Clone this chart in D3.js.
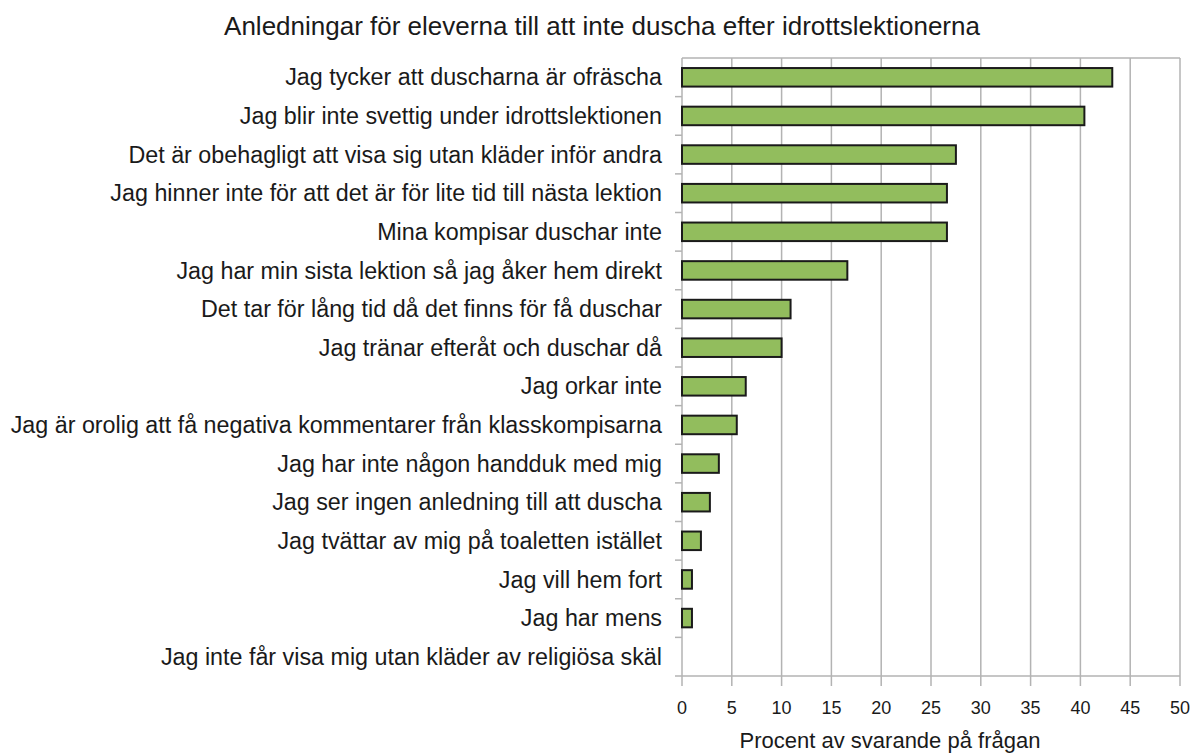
<!DOCTYPE html>
<html>
<head>
<meta charset="utf-8">
<script src="https://cdn.jsdelivr.net/npm/d3@7"></script>
<style>
  body { margin: 0; background: #fff; }
  text { font-family: "Liberation Sans", Arial, sans-serif; fill: #1a1a1a; }
</style>
</head>
<body>
<script>
// reasons (top to bottom) and percentages
var reasons = [
  "Jag tycker att duscharna är ofräscha",
  "Jag blir inte svettig under idrottslektionen",
  "Det är obehagligt att visa sig utan kläder inför andra",
  "Jag hinner inte för att det är för lite tid till nästa lektion",
  "Mina kompisar duschar inte",
  "Jag har min sista lektion så jag åker hem direkt",
  "Det tar för lång tid då det finns för få duschar",
  "Jag tränar efteråt och duschar då",
  "Jag orkar inte",
  "Jag är orolig att få negativa kommentarer från klasskompisarna",
  "Jag har inte någon handduk med mig",
  "Jag ser ingen anledning till att duscha",
  "Jag tvättar av mig på toaletten istället",
  "Jag vill hem fort",
  "Jag har mens",
  "Jag inte får visa mig utan kläder av religiösa skäl"
];
var percent = [43.2, 40.4, 27.5, 26.6, 26.6, 16.6, 10.9, 10.0, 6.4, 5.5, 3.7, 2.8, 1.9, 1.0, 1.0, 0];
var xTicks = [0, 5, 10, 15, 20, 25, 30, 35, 40, 45, 50];

var chartTitle = "Anledningar för eleverna till att inte duscha efter idrottslektionerna";
var xTitle = "Procent av svarande på frågan";

//plot frame
var width = 1192, height = 754;
var plotLeft = 682, plotRight = 1180, plotTop = 58, plotBottom = 676;

var svg = d3.select("body").append("svg")
    .attr("width", width)
    .attr("height", height);

var x = d3.scaleLinear().domain([0, 50]).range([plotLeft, plotRight]);
var y = d3.scaleBand().domain(reasons).range([plotTop, plotBottom]).paddingInner(0.52).paddingOuter(0.26);
var yb = d3.scaleBand().domain(reasons).range([plotTop, plotBottom]);

var gridColor = "#b3b3b3";

//vertical gridlines with ticks below axis
svg.selectAll(".grid")
    .data(xTicks)
    .enter().append("line")
    .attr("x1", function(d){ return x(d); })
    .attr("x2", function(d){ return x(d); })
    .attr("y1", plotTop)
    .attr("y2", plotBottom + 10)
    .attr("stroke", gridColor)
    .attr("stroke-width", 1.5);

//top border
svg.append("line")
    .attr("x1", plotLeft).attr("x2", plotRight)
    .attr("y1", plotTop).attr("y2", plotTop)
    .attr("stroke", gridColor).attr("stroke-width", 1.5);

//category ticks on the left
svg.selectAll(".ytick")
    .data(reasons.slice(1))
    .enter().append("line")
    .attr("x1", plotLeft - 7).attr("x2", plotLeft)
    .attr("y1", function(d){ return yb(d); })
    .attr("y2", function(d){ return yb(d); })
    .attr("stroke", gridColor).attr("stroke-width", 1.5);

//bottom axis line
svg.append("line")
    .attr("x1", plotLeft - 7).attr("x2", plotRight)
    .attr("y1", plotBottom).attr("y2", plotBottom)
    .attr("stroke", gridColor).attr("stroke-width", 1.5);

//bars
svg.selectAll(".bar")
    .data(reasons.filter(function(d, i){ return percent[i] > 0; }))
    .enter().append("rect")
    .attr("class", "bar")
    .attr("x", x(0))
    .attr("y", function(d){ return y(d); })
    .attr("width", function(d){ return x(percent[reasons.indexOf(d)]) - x(0); })
    .attr("height", y.bandwidth())
    .attr("fill", "#92bd5d")
    .attr("stroke", "#1a1a1a")
    .attr("stroke-width", 2);

//category labels
svg.selectAll(".label")
    .data(reasons)
    .enter().append("text")
    .attr("x", 662)
    .attr("y", function(d){ return yb(d) + yb.bandwidth() / 2; })
    .attr("dy", "0.35em")
    .attr("text-anchor", "end")
    .style("font-size", "23.3px")
    .text(function(d){ return d; });

//x tick labels
svg.selectAll(".xlabel")
    .data(xTicks)
    .enter().append("text")
    .attr("x", function(d){ return x(d); })
    .attr("y", 714)
    .attr("text-anchor", "middle")
    .style("font-size", "18px")
    .text(function(d){ return d; });

//titles
svg.append("text")
    .attr("x", 602).attr("y", 35)
    .attr("text-anchor", "middle")
    .style("font-size", "26px")
    .text(chartTitle);

svg.append("text")
    .attr("x", 890).attr("y", 748)
    .attr("text-anchor", "middle")
    .style("font-size", "22px")
    .text(xTitle);
</script>
</body>
</html>
